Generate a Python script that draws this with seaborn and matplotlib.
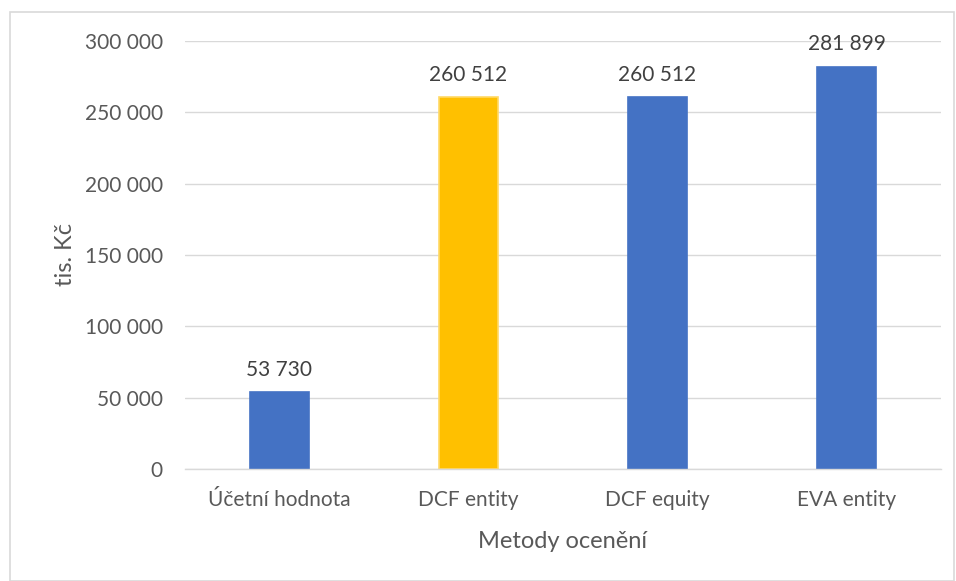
import matplotlib
matplotlib.use("Agg")
import matplotlib.pyplot as plt
import seaborn as sns
import pandas as pd
from matplotlib.patches import Rectangle

methods = ["Účetní hodnota", "DCF entity", "DCF equity", "EVA entity"]
values = [53730, 260512, 260512, 281899]
bar_colors = ["#4472C4", "#FFC000", "#4472C4", "#4472C4"]
edge_colors = ["#4472C4", "#FFD966", "#4472C4", "#4472C4"]
yticks = [0, 50000, 100000, 150000, 200000, 250000, 300000]

def fmt(v):
    return f"{v:,}".replace(",", " ")

sns.set_theme(style="white")
plt.rcParams["font.family"] = ["Lato", "DejaVu Sans"]

df = pd.DataFrame({"method": methods, "value": values})

fig = plt.figure(figsize=(9.56, 5.81), dpi=100)
ax = fig.add_axes([185 / 956, 1 - 469 / 581, (941 - 185) / 956, (469 - 41) / 581])

sns.barplot(data=df, x="method", y="value", hue="method", palette=bar_colors,
            legend=False, width=0.317, ax=ax, saturation=1)
for patch, ec in zip(ax.patches, edge_colors):
    patch.set_edgecolor(ec)
    patch.set_linewidth(1.2)

ax.set_xlim(-0.5, 3.5)
ax.set_ylim(0, 300000)
ax.set_yticks(yticks)
ax.set_yticklabels([fmt(t) for t in yticks])
ax.yaxis.grid(True, color="#D9D9D9", linewidth=1.0)
ax.set_axisbelow(True)
for side in ["left", "right", "top"]:
    ax.spines[side].set_visible(False)
ax.spines["bottom"].set_color("#D9D9D9")
ax.spines["bottom"].set_linewidth(1.0)
ax.tick_params(axis="both", length=0, labelsize=15, colors="#595959")
ax.tick_params(axis="y", pad=16)
ax.tick_params(axis="x", pad=15)

for i, v in enumerate(values):
    ax.annotate(fmt(v), (i, v), xytext=(0, 9), textcoords="offset points",
                ha="center", va="bottom", fontsize=15, color="#404040")

ax.set_xlabel("Metody ocenění", fontsize=17, color="#595959", labelpad=15)
ax.set_ylabel("tis. Kč", fontsize=17, color="#595959", labelpad=6)

fig.patches.append(Rectangle((10 / 956, 0.0), 1 - 12 / 956, 1 - 12 / 581,
                             transform=fig.transFigure, fill=False,
                             edgecolor="#D9D9D9", linewidth=1.2))

fig.savefig("out.png", dpi=100)
